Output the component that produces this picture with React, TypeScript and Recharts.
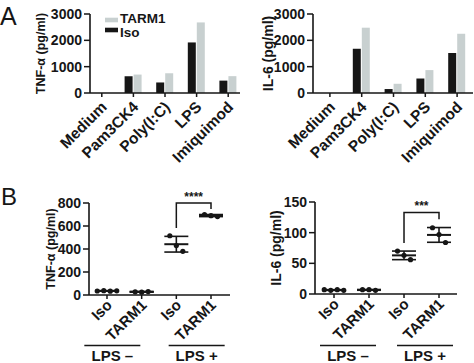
import React from 'react';
import { BarChart, Bar, XAxis, YAxis, ComposedChart, Scatter, ErrorBar, Line, Legend } from 'recharts';

// ---------- data ----------
const stimuli = ['Medium', 'Pam3CK4', 'Poly(I:C)', 'LPS', 'Imiquimod'];
const tnfIso = [0, 640, 400, 1920, 470];
const tnfTarm1 = [0, 700, 750, 2680, 640];
const il6Iso = [0, 1680, 150, 550, 1520];
const il6Tarm1 = [0, 2480, 350, 870, 2250];
const ticksA = [0, 1000, 2000, 3000];

const groupNames = ['Iso', 'TARM1', 'Iso', 'TARM1'];
const lpsNames = ['LPS \u2013', 'LPS +'];
const tnfIsoMinus = [35, 38, 33, 36];
const tnfTarmMinus = [28, 25, 30];
const tnfIsoPlus = [515, 430, 380];
const tnfTarmPlus = [700, 690, 682];
const il6IsoMinus = [7, 6, 7, 6];
const il6TarmMinus = [7, 7, 6];
const il6IsoPlus = [70, 63, 56];
const il6TarmPlus = [108, 97, 84];
const ticksTnfB = [0, 200, 400, 600, 800];
const ticksIl6B = [0, 50, 100, 150];
const tnfBracket = [583, 800, 748];
const il6Bracket = [83, 133, 122];
const tnfSig = '****';
const il6Sig = '***';

// ---------- style ----------
const W = 474;
const H = 363;
const FONT = '"Liberation Sans", Arial, Helvetica, sans-serif';
const INK = '#161616';
const GREY = '#c8d0d0';
const YW = 60;

const AxisTitle = (p: any) => (
  <text
    x={p.tx}
    y={p.ty}
    transform={`rotate(-90 ${p.tx} ${p.ty})`}
    textAnchor="middle"
    dominantBaseline="central"
    fontFamily={FONT}
    fontWeight={700}
    fontSize={p.fs}
    fill={INK}
  >
    {p.text}
  </text>
);

const RotTick = (p: any) => {
  const { x, y, payload, dx, dy, names, unit, index, fs, shifts } = p;
  const label = names ? names[Math.round(payload.value) - 1] : payload.value;
  const px = x + dx;
  const py = y + dy;
  const showGroup = names && index % 2 === 1;
  const gi = (index - 1) / 2;
  const gx = showGroup ? x - unit / 2 + shifts[gi] : 0;
  return (
    <g>
      <text
        x={px}
        y={py}
        transform={`rotate(-45 ${px} ${py})`}
        textAnchor="end"
        fontFamily={FONT}
        fontWeight={700}
        fontSize={fs}
        fill={INK}
      >
        {label}
      </text>
      {showGroup && (
        <g>
          <line x1={gx - 28} x2={gx + 28} y1={345.5} y2={345.5} stroke={INK} strokeWidth={1.5} />
          <text x={gx} y={361} textAnchor="middle" fontFamily={FONT} fontWeight={700} fontSize={15} fill={INK}>
            {lpsNames[gi]}
          </text>
        </g>
      )}
    </g>
  );
};

const LegendBox = () => (
  <svg width={80} height={30} style={{ overflow: 'visible', display: 'block' }}>
    <rect x={0} y={4.7} width={13} height={4.6} fill={GREY} />
    <text x={15} y={9.5} fontFamily={FONT} fontWeight={700} fontSize={13.5} fill={INK}>TARM1</text>
    <rect x={0} y={14.7} width={13} height={4.6} fill={INK} />
    <text x={15} y={24} fontFamily={FONT} fontWeight={700} fontSize={13.5} fill={INK}>Iso</text>
  </svg>
);

function PanelA(props: any) {
  const { iso, tarm, title, left, width, padL, padR, titleX, legend, titleFs } = props;
  const data = stimuli.map((s, i) => ({ name: s, iso: iso[i], tarm1: tarm[i] }));
  const top = 14;
  const ph = 79;
  const xh = 30;
  return (
    <div style={{ position: 'absolute', left: 0, top: 0 }}>
      <BarChart
        width={W}
        height={H}
        data={data}
        margin={{ top, left: left - YW, right: W - left - width, bottom: H - top - ph - xh }}
        barSize={8}
        barGap={1}
      >
        <XAxis
          dataKey="name"
          interval={0}
          height={xh}
          padding={{ left: padL, right: padR }}
          tickSize={4}
          axisLine={{ stroke: INK, strokeWidth: 1.6 }}
          tickLine={{ stroke: INK, strokeWidth: 1.5 }}
          tick={<RotTick dx={6} dy={9} fs={15.5} />}
        />
        <YAxis
          width={YW}
          domain={[0, 3000]}
          ticks={ticksA}
          tickSize={6}
          tickMargin={2}
          axisLine={{ stroke: INK, strokeWidth: 1.6 }}
          tickLine={{ stroke: INK, strokeWidth: 1.5 }}
          tick={{ fill: INK, fontSize: 14, fontWeight: 700, fontFamily: FONT }}
          label={<AxisTitle tx={titleX} ty={top + ph / 2} text={title} fs={titleFs} />}
        />
        {legend && (
          <Legend
            layout="horizontal"
            verticalAlign="middle"
            align="center"
            content={<LegendBox />}
            wrapperStyle={{ position: 'absolute', left: 105, top: 13, width: 80, height: 30 }}
          />
        )}
        <Bar dataKey="iso" fill={INK} isAnimationActive={false} />
        <Bar dataKey="tarm1" fill={GREY} isAnimationActive={false} />
      </BarChart>
    </div>
  );
}

const DotShape = (p: any) => {
  const { cx, cy, payload } = p;
  const off = (payload.i - (payload.n - 1) / 2) * 6.5;
  return <circle cx={cx + off} cy={cy} r={2.6} fill={INK} />;
};

const MeanShape = (p: any) => (
  <line x1={p.cx - 12} x2={p.cx + 12} y1={p.cy} y2={p.cy} stroke={INK} strokeWidth={2} />
);

const SigShape = (p: any) => (
  <text x={p.cx} y={p.cy - 2.5} textAnchor="middle" fontFamily={FONT} fontWeight={700} fontSize={12} fill={INK}>
    {p.payload.t}
  </text>
);

function PanelB(props: any) {
  const { groups, yMax, yTicks, bracket, sig, left, width, top, height, domain, title, titleX, titleFs, shifts } = props;
  const points = groups.flatMap((vals: number[], g: number) =>
    vals.map((v, i) => ({ x: g + 1, y: v, i, n: vals.length }))
  );
  const summary = groups.map((vals: number[], g: number) => {
    const m = vals.reduce((a, b) => a + b, 0) / vals.length;
    const sd = Math.sqrt(vals.reduce((a, b) => a + (b - m) * (b - m), 0) / (vals.length - 1));
    return { x: g + 1, y: m, sd };
  });
  const bracketData = [
    { x: 3, y: bracket[0] },
    { x: 3, y: bracket[1] },
    { x: 4, y: bracket[1] },
    { x: 4, y: bracket[2] },
  ];
  const sigData = [{ x: 3.5, y: bracket[1], t: sig }];
  const xh = H - (top + height);
  const unit = width / (domain[1] - domain[0]);
  return (
    <div style={{ position: 'absolute', left: 0, top: 0 }}>
      <ComposedChart
        width={W}
        height={H}
        margin={{ top, left: left - YW, right: W - left - width, bottom: 0 }}
      >
        <XAxis
          type="number"
          dataKey="x"
          domain={domain}
          allowDataOverflow
          ticks={[1, 2, 3, 4]}
          interval={0}
          height={xh}
          tickSize={4}
          axisLine={{ stroke: INK, strokeWidth: 1.6 }}
          tickLine={{ stroke: INK, strokeWidth: 1.5 }}
          tick={<RotTick dx={6} dy={5} names={groupNames} unit={unit} fs={15} shifts={shifts} />}
        />
        <YAxis
          width={YW}
          type="number"
          domain={[0, yMax]}
          ticks={yTicks}
          tickSize={6}
          tickMargin={2}
          axisLine={{ stroke: INK, strokeWidth: 1.6 }}
          tickLine={{ stroke: INK, strokeWidth: 1.5 }}
          tick={{ fill: INK, fontSize: 14, fontWeight: 700, fontFamily: FONT }}
          label={<AxisTitle tx={titleX} ty={top + height / 2} text={title} fs={titleFs} />}
        />
        <Line
          data={bracketData}
          dataKey="y"
          type="linear"
          stroke={INK}
          strokeWidth={1.5}
          dot={false}
          activeDot={false}
          isAnimationActive={false}
        />
        <Scatter data={summary} dataKey="y" shape={MeanShape} isAnimationActive={false}>
          <ErrorBar dataKey="sd" direction="y" width={12} stroke={INK} strokeWidth={1.6} isAnimationActive={false} />
        </Scatter>
        <Scatter data={points} dataKey="y" shape={DotShape} isAnimationActive={false} />
        <Scatter data={sigData} dataKey="y" shape={SigShape} isAnimationActive={false} />
      </ComposedChart>
    </div>
  );
}

export default function App() {
  return (
    <div style={{ position: 'absolute', left: 0, top: 0, width: W, height: H, background: '#fff', overflow: 'hidden' }}>
      <PanelA iso={tnfIso} tarm={tnfTarm1} title="TNF-α (pg/ml)" titleFs={12.5} left={90} width={150} padL={-4} padR={-4} titleX={41} legend />
      <PanelA iso={il6Iso} tarm={il6Tarm1} title="IL-6 (pg/ml)" titleFs={14} left={313} width={160} padL={1} padR={0} titleX={268} />
      <PanelB
        groups={[tnfIsoMinus, tnfTarmMinus, tnfIsoPlus, tnfTarmPlus]}
        yMax={800}
        yTicks={ticksTnfB}
        bracket={tnfBracket}
        sig={tnfSig}
        left={89}
        width={141}
        top={203}
        height={92}
        domain={[0.481, 4.548]}
        title="TNF-α (pg/ml)"
        titleFs={12.5}
        titleX={51}
        shifts={[-12, 3]}
      />
      <PanelB
        groups={[il6IsoMinus, il6TarmMinus, il6IsoPlus, il6TarmPlus]}
        yMax={150}
        yTicks={ticksIl6B}
        bracket={il6Bracket}
        sig={il6Sig}
        left={315}
        width={142}
        top={202}
        height={92}
        domain={[0.457, 4.514]}
        title="IL-6 (pg/ml)"
        titleFs={14}
        titleX={276}
        shifts={[-3.5, 3.5]}
      />
      <svg width={W} height={H} style={{ position: 'absolute', left: 0, top: 0, pointerEvents: 'none' }}>
        <text x={0} y={25} fontFamily={FONT} fontSize={25} fill={INK}>A</text>
        <text x={1} y={205} fontFamily={FONT} fontSize={24} fill={INK}>B</text>
      </svg>
    </div>
  );
}
